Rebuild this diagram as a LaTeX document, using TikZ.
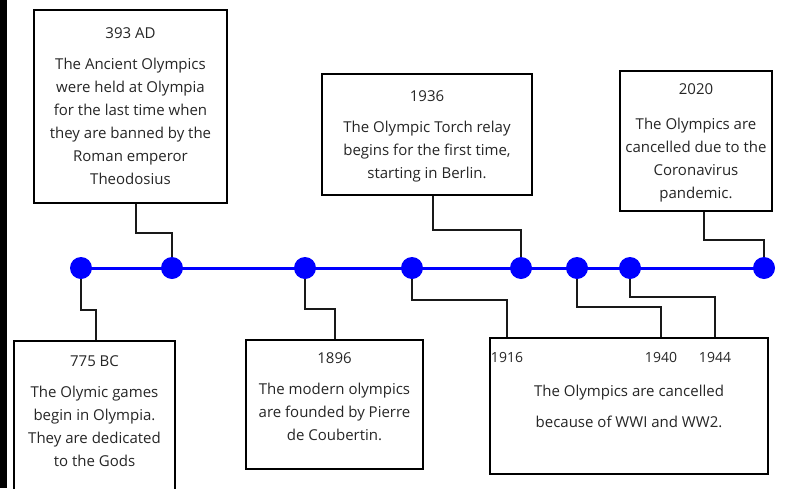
\documentclass[tikz,border=0pt]{standalone}
\usepackage{fontspec}
\setmainfont{Open Sans}
\usetikzlibrary{positioning,backgrounds}

\begin{document}
\begin{tikzpicture}[x=1pt, y=-1pt,
event/.style={rectangle, draw=black, fill=white, line width=2pt, align=center, inner sep=0pt, anchor=north west, text=black!85, font=\fontsize{15}{23}\selectfont},
dot/.style={circle, fill=blue, minimum size=22pt, inner sep=0pt},
link/.style={draw=black!90, line width=1.8pt},
axis/.style={draw=blue, line width=3pt},
year/.style={inner sep=0pt, text=black!85, font=\fontsize{14}{16}\selectfont},
]
\useasboundingbox (0,0) rectangle (788,488);
\clip (0,0) rectangle (788,488);
\fill[black] (0,0) rectangle (7,488);

% event boxes above the line
\node[event, minimum width=193pt, minimum height=193pt] (ad393) at (33,9)
  {393 AD\\[8pt] The Ancient Olympics\\ were held at Olympia\\ for the last time when\\ they are banned by the\\ Roman emperor\\ Theodosius};
\node[event, minimum width=210pt, minimum height=121pt, text depth=-10pt] (y1936) at (321,73)
  {1936\\[8pt] The Olympic Torch relay\\ begins for the first time,\\ starting in Berlin.};
\node[event, minimum width=152pt, minimum height=140pt, text depth=-12pt] (y2020) at (619,70)
  {2020\\[12pt] The Olympics are\\ cancelled due to the\\ Coronavirus\\ pandemic.};

% event boxes below the line
\node[event, minimum width=161pt, minimum height=152pt, text depth=12pt] (bc775) at (13,340)
  {775 BC\\[8pt] The Olymic games\\ begin in Olympia.\\ They are dedicated\\ to the Gods};
\node[event, minimum width=177pt, minimum height=129pt, text depth=16pt] (y1896) at (245,339)
  {1896\\[8pt] The modern olympics\\ are founded by Pierre\\ de Coubertin.};
\node[event, minimum width=278pt, minimum height=136pt] (wars) at (489,337)
  {The Olympics are cancelled\\[8pt] because of WWI and WW2.};

\coordinate (f1916) at ([xshift=18pt]wars.north west);
\coordinate (f1940) at ([xshift=172pt]wars.north west);
\coordinate (f1944) at ([xshift=226pt]wars.north west);
\node[year, below=15pt of f1916] (t1916) {1916};
\node[year, below=15pt of f1940] (t1940) {1940};
\node[year, below=15pt of f1944] (t1944) {1944};

% dots on the time line
\node[dot] (d775) at (81,268) {};
\node[dot] (d393) at (172,268) {};
\node[dot] (d1896) at (305,268) {};
\node[dot] (d1916) at (412,268) {};
\node[dot] (d1936) at (521,268) {};
\node[dot] (d1940) at (577,268) {};
\node[dot] (d1944) at (630,268) {};
\node[dot] (d2020) at (764,268) {};

\begin{scope}[on background layer]
\draw[axis] (d775.center) -- (d2020.center);
\draw[link] ([xshift=103pt]ad393.south west) -- ++(0,29) -| (d393);
\draw[link] ([xshift=112pt]y1936.south west) -- ++(0,34) -| (d1936);
\draw[link] ([xshift=85pt]y2020.south west) -- ++(0,28) -| (d2020);
\draw[link] (d775) -- ++(0,42) -| ([xshift=83pt]bc775.north west);
\draw[link] (d1896) -- ++(0,41) -| ([xshift=90pt]y1896.north west);
\draw[link] (d1916) -- ++(0,32) -| (f1916);
\draw[link] (d1940) -- ++(0,39) -| (f1940);
\draw[link] (d1944) -- ++(0,29) -| (f1944);
\end{scope}
\end{tikzpicture}
\end{document}
